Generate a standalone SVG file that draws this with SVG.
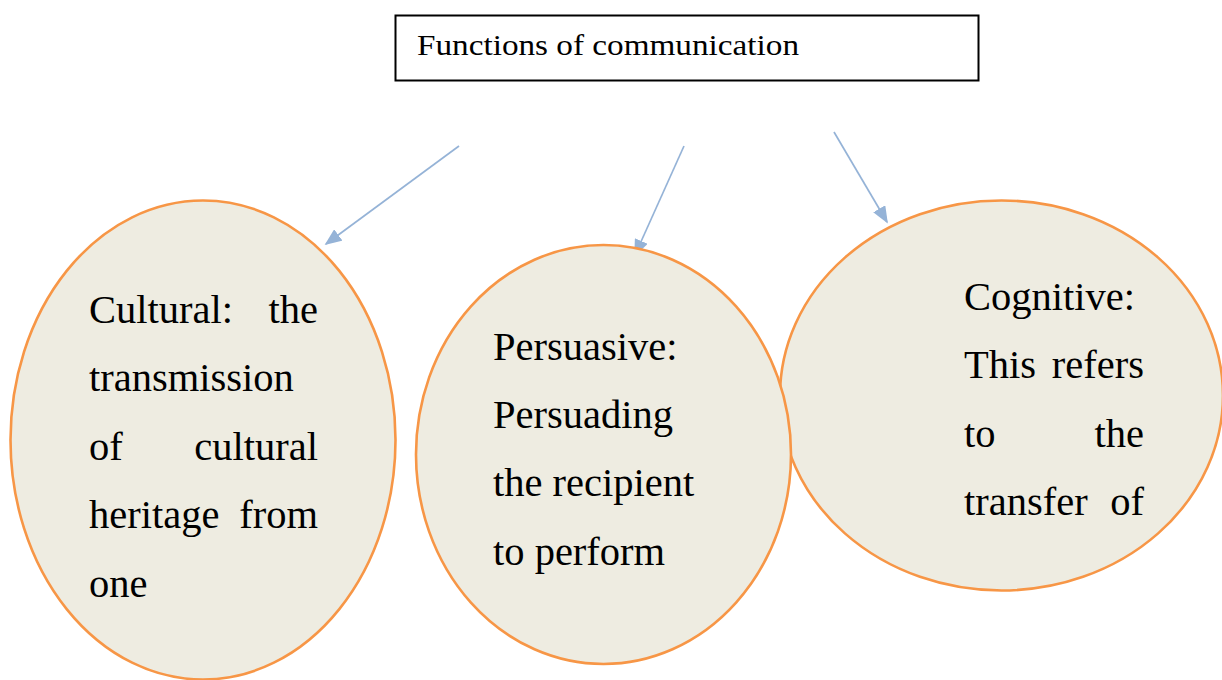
<svg xmlns="http://www.w3.org/2000/svg" width="1222" height="680" viewBox="0 0 1222 680">
  <style>
    .title { font-family: "Liberation Serif", "Times New Roman", serif; font-size: 30px; fill: #000; }
    .oval { fill: #EEECE1; stroke: #F79646; stroke-width: 2.6; }
    .body { font-family: "Liberation Serif", "Times New Roman", serif; font-size: 40.5px; fill: #000; }
    .end { text-anchor: end; }
    .link { stroke: #95B3D7; stroke-width: 1.7; fill: none; marker-end: url(#head); }
  </style>
  <defs>
    <marker id="head" viewBox="0 0 10 10" refX="9" refY="5" markerWidth="17" markerHeight="14" preserveAspectRatio="none" markerUnits="userSpaceOnUse" orient="auto">
      <path d="M0,0 L10,5 L0,10 z" fill="#95B3D7"/>
    </marker>
  </defs>
  <rect width="1222" height="680" fill="#fff"/>

  <!-- heading box -->
  <g id="heading">
    <rect x="395.5" y="15.5" width="583" height="65" fill="#fff" stroke="#000" stroke-width="2"/>
    <text class="title" x="417" y="55" textLength="382" lengthAdjust="spacingAndGlyphs">Functions of communication</text>
  </g>

  <!-- arrows from the heading down to each function -->
  <g id="connectors">
    <line class="link" x1="459" y1="146" x2="326" y2="244"/>
    <line class="link" x1="684" y1="146" x2="635" y2="255"/>
    <line class="link" x1="834" y1="132" x2="887" y2="222"/>
  </g>

  <!-- cognitive (drawn first so the persuasive oval overlaps it) -->
  <g id="cognitive">
    <ellipse class="oval" cx="1001.5" cy="395.5" rx="221.5" ry="195"/>
    <text class="body" x="964" y="310">Cognitive:</text>
    <text class="body" x="964" y="378">This</text>
    <text class="body end" x="1144" y="378">refers</text>
    <text class="body" x="964" y="447">to</text>
    <text class="body end" x="1144" y="447">the</text>
    <text class="body" x="964" y="515">transfer</text>
    <text class="body end" x="1144" y="515">of</text>
  </g>

  <!-- cultural -->
  <g id="cultural">
    <ellipse class="oval" cx="203" cy="440" rx="192.5" ry="239.5"/>
    <text class="body" x="89" y="323">Cultural:</text>
    <text class="body end" x="318" y="323">the</text>
    <text class="body" x="89" y="391">transmission</text>
    <text class="body" x="89" y="460">of</text>
    <text class="body end" x="318" y="460">cultural</text>
    <text class="body" x="89" y="528">heritage</text>
    <text class="body end" x="318" y="528">from</text>
    <text class="body" x="89" y="597">one</text>
  </g>

  <!-- persuasive -->
  <g id="persuasive">
    <ellipse class="oval" cx="603.5" cy="454.5" rx="187.5" ry="209.5"/>
    <text class="body" x="493" y="360">Persuasive:</text>
    <text class="body" x="493" y="428">Persuading</text>
    <text class="body" x="493" y="496">the recipient</text>
    <text class="body" x="493" y="565">to perform</text>
  </g>
</svg>
